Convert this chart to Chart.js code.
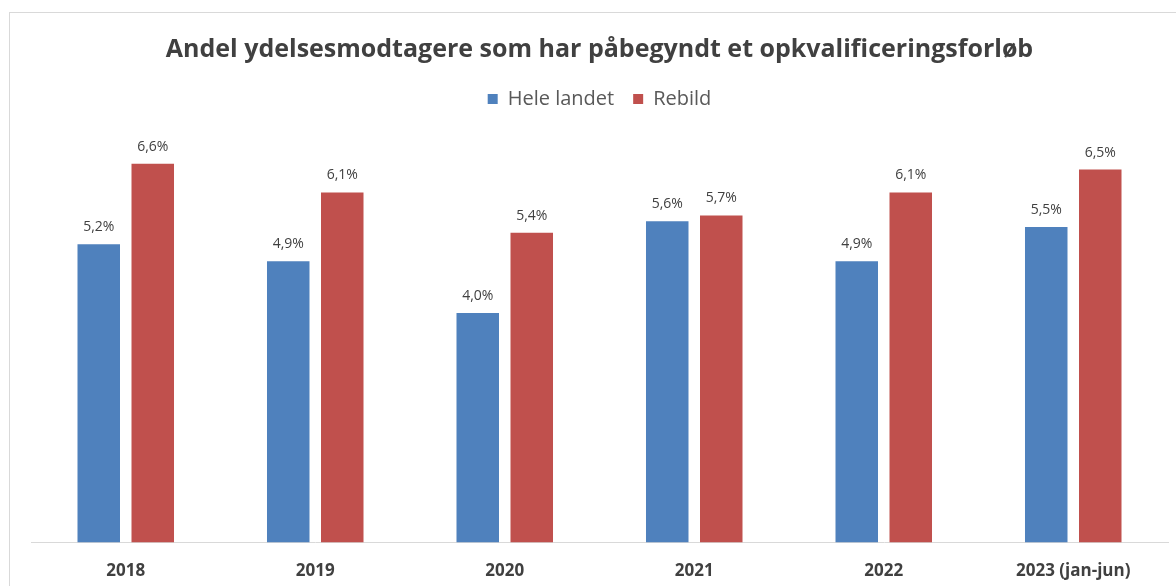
<!DOCTYPE html>
<html>
<head>
<meta charset="utf-8">
<script src="https://cdn.jsdelivr.net/npm/chart.js@4.4.1/dist/chart.umd.min.js"></script>
<style>
html,body{margin:0;padding:0;background:#fff;overflow:hidden;}
#frame{position:absolute;left:9px;top:12px;width:1180px;height:590px;border-left:1px solid #d9d9d9;border-top:1px solid #d9d9d9;}
#wrap{position:absolute;left:10px;top:13px;width:1166px;height:586px;}
</style>
</head>
<body>
<div id="frame"></div>
<div id="wrap"><canvas id="c"></canvas></div>
<script>
const categories = ["2018", "2019", "2020", "2021", "2022", "2023 (jan-jun)"];
const seriesNames = ["Hele landet", "Rebild"];
const heleLandet = [5.2, 4.9, 4.0, 5.6, 4.9, 5.5];
const rebild = [6.6, 6.1, 5.4, 5.7, 6.1, 6.5];
const chartTitle = "Andel ydelsesmodtagere som har påbegyndt et opkvalificeringsforløb";

const FONT = "'Open Sans', sans-serif";

const valueLabels = {
  id: 'valueLabels',
  afterDatasetsDraw(chart) {
    const ctx = chart.ctx;
    ctx.save();
    ctx.font = "14px " + FONT;
    ctx.fillStyle = "#404040";
    ctx.textAlign = "center";
    ctx.textBaseline = "alphabetic";
    chart.data.datasets.forEach((ds, i) => {
      const meta = chart.getDatasetMeta(i);
      meta.data.forEach((bar, j) => {
        const v = ds.data[j];
        ctx.fillText(v.toFixed(1).replace('.', ',') + '%', bar.x, bar.y - 13);
      });
    });
    ctx.restore();
  }
};

new Chart(document.getElementById('c'), {
  type: 'bar',
  data: {
    labels: categories,
    datasets: [
      { label: seriesNames[0], data: heleLandet, backgroundColor: '#4F81BD', categoryPercentage: 0.57, barPercentage: 0.787 },
      { label: seriesNames[1], data: rebild, backgroundColor: '#C0504D', categoryPercentage: 0.57, barPercentage: 0.787 }
    ]
  },
  options: {
    responsive: true,
    maintainAspectRatio: false,
    animation: false,
    layout: { padding: { left: 21, right: 8, top: 18, bottom: 0 } },
    plugins: {
      title: {
        display: true,
        text: chartTitle,
        color: '#404040',
        font: { family: FONT, size: 25, weight: 'bold' },
        padding: { top: 4, bottom: 5 }
      },
      legend: {
        display: true,
        position: 'top',
        labels: {
          color: '#595959',
          font: { family: FONT, size: 20 },
          boxWidth: 10,
          boxHeight: 10,
          padding: 19
        }
      },
      tooltip: { enabled: false }
    },
    scales: {
      x: {
        grid: { display: false, drawTicks: false },
        border: { display: true, color: '#d9d9d9', width: 1 },
        ticks: { color: '#404040', font: { family: FONT, size: 17, weight: 'bold' }, padding: 18 }
      },
      y: {
        display: false,
        min: 0,
        max: 7.38
      }
    }
  },
  plugins: [valueLabels]
});
</script>
</body>
</html>
